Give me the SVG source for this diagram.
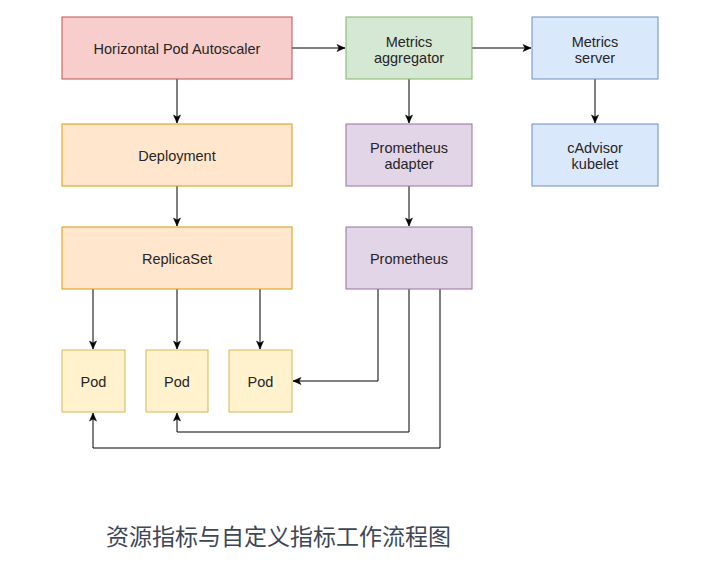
<svg xmlns="http://www.w3.org/2000/svg" width="704" height="576" viewBox="0 0 704 576">
  <style>
    .lbl { font-family: "Liberation Sans", Arial, sans-serif; font-size: 14.5px; fill: #262626; text-anchor: middle; }
    .red { fill: #f8cecc; stroke: #b85450; }
    .orange { fill: #ffe6cc; stroke: #d79b00; }
    .yellow { fill: #fff2cc; stroke: #d6b656; }
    .green { fill: #d5e8d4; stroke: #82b366; }
    .purple { fill: #e1d5e7; stroke: #9673a6; }
    .blue { fill: #dae8fc; stroke: #6c8ebf; }
    .conn path { fill: none; stroke: #000; stroke-width: 1; marker-end: url(#arr); }
    .caption { font-family: "Noto Sans CJK SC", "Noto Sans", sans-serif; font-size: 23px; fill: #3d4757; }
  </style>
  <defs>
    <marker id="arr" markerUnits="userSpaceOnUse" markerWidth="10" markerHeight="10" viewBox="0 0 10 10" refX="9" refY="5" orient="auto">
      <path d="M1,1.5 L9,5 L1,8.5 L3,5 z" fill="#000" stroke="#000" stroke-width="0.5"/>
    </marker>
  </defs>
  <rect width="704" height="576" fill="#ffffff"/>

  <g id="connectors" class="conn">
    <path d="M292,48 H345"/>
    <path d="M472,48 H531"/>
    <path d="M177,79 V123"/>
    <path d="M177,186 V226"/>
    <path d="M409,79 V123"/>
    <path d="M595,79 V123"/>
    <path d="M409,186 V226"/>
    <path d="M93,289 V349"/>
    <path d="M177,289 V349"/>
    <path d="M260,289 V349"/>
    <path d="M378,289 V381 H293"/>
    <path d="M409,289 V432 H177 V413"/>
    <path d="M440,289 V448 H93 V413"/>
  </g>

  <g id="hpa"><rect class="red" x="62" y="17" width="230" height="62"/><text class="lbl" x="177" y="54">Horizontal Pod Autoscaler</text></g>
  <g id="aggregator"><rect class="green" x="346" y="17" width="126" height="62"/><text class="lbl" x="409" y="47">Metrics</text><text class="lbl" x="409" y="63">aggregator</text></g>
  <g id="metrics-server"><rect class="blue" x="532" y="17" width="126" height="62"/><text class="lbl" x="595" y="47">Metrics</text><text class="lbl" x="595" y="63">server</text></g>
  <g id="deployment"><rect class="orange" x="62" y="124" width="230" height="62"/><text class="lbl" x="177" y="161">Deployment</text></g>
  <g id="prometheus-adapter"><rect class="purple" x="346" y="124" width="126" height="62"/><text class="lbl" x="409" y="153">Prometheus</text><text class="lbl" x="409" y="169">adapter</text></g>
  <g id="cadvisor"><rect class="blue" x="532" y="124" width="126" height="62"/><text class="lbl" x="595" y="153">cAdvisor</text><text class="lbl" x="595" y="169">kubelet</text></g>
  <g id="replicaset"><rect class="orange" x="62" y="227" width="230" height="62"/><text class="lbl" x="177" y="264">ReplicaSet</text></g>
  <g id="prometheus"><rect class="purple" x="346" y="227" width="126" height="62"/><text class="lbl" x="409" y="264">Prometheus</text></g>
  <g id="pod1"><rect class="yellow" x="62" y="350" width="63" height="62"/><text class="lbl" x="93.5" y="387">Pod</text></g>
  <g id="pod2"><rect class="yellow" x="146" y="350" width="62" height="62"/><text class="lbl" x="177" y="387">Pod</text></g>
  <g id="pod3"><rect class="yellow" x="229" y="350" width="63" height="62"/><text class="lbl" x="260.5" y="387">Pod</text></g>

  <text class="caption" x="106" y="545">资源指标与自定义指标工作流程图</text>
</svg>
